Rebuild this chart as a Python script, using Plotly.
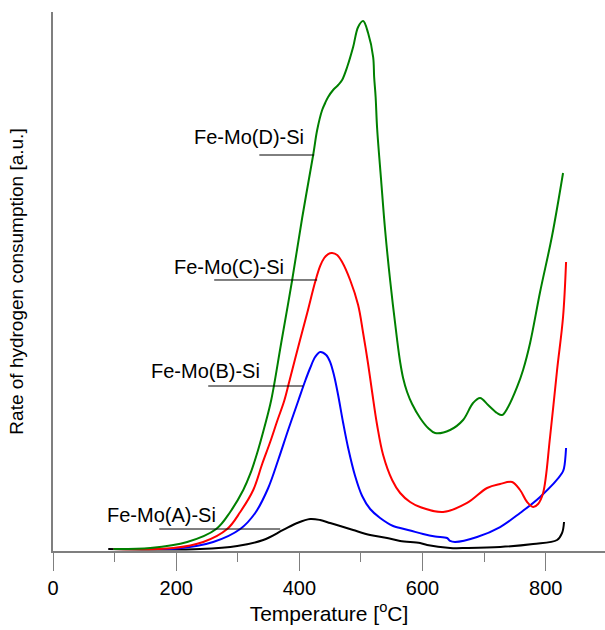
import plotly.graph_objects as go

# H2-TPR profiles of Fe-Mo catalysts on silica (arbitrary intensity units)
temp_a = [89.7, 157.9, 239.0, 299.1, 341.3, 373.7, 396.4, 417.5, 433.8, 450.0, 466.2,
          487.3, 514.9, 542.4, 563.6, 596.0, 607.4, 644.7, 672.3, 725.9, 779.5, 818.4,
          826.5, 829.7]
rate_a = [0.37, 0.28, 0.37, 0.93, 2.04, 3.90, 5.19, 5.94, 5.75, 5.19, 4.64,
          3.90, 2.97, 2.41, 1.86, 1.48, 1.11, 0.56, 0.56, 0.74, 1.30, 2.04,
          3.34, 5.38]

temp_b = [97.9, 157.9, 201.7, 260.1, 304.0, 328.3, 349.4, 365.6, 381.8, 398.1, 409.4,
          417.5, 425.6, 433.8, 443.5, 450.0, 456.5, 462.9, 471.1, 479.2, 490.5, 501.9,
          514.9, 531.1, 552.2, 563.6, 579.8, 600.9, 620.4, 639.8, 644.7, 652.8, 688.5,
          725.9, 758.3, 790.8, 826.5, 829.7, 833.0]
rate_b = [0.37, 0.37, 0.46, 1.67, 4.08, 7.05, 11.69, 16.88, 22.45, 27.83, 31.54,
          33.95, 35.99, 36.92, 36.36, 35.06, 32.47, 28.94, 23.75, 19.11, 13.91, 10.20,
          7.79, 6.12, 4.64, 4.27, 3.80, 3.15, 2.69, 2.41, 1.86, 1.67, 2.60,
          4.45, 7.05, 10.02, 14.47, 15.40, 19.11]

temp_c = [97.9, 195.2, 243.9, 282.8, 304.0, 325.1, 339.6, 352.6, 364.0, 375.3, 383.4,
          398.1, 412.7, 425.6, 433.8, 440.3, 446.7, 453.2, 461.3, 469.4, 482.4, 495.4,
          503.5, 511.6, 518.1, 526.2, 536.0, 550.6, 563.6, 579.8, 596.0, 633.4, 672.3,
          704.8, 725.9, 745.4, 758.3, 769.7, 779.5, 787.5, 795.7, 807.0, 818.4, 828.1,
          833.0]
rate_c = [0.37, 0.56, 1.67, 4.08, 7.24, 11.32, 16.14, 20.22, 24.12, 27.83, 31.35,
          37.85, 44.16, 49.91, 52.88, 54.36, 55.10, 55.29, 54.92, 53.62, 50.28, 45.64,
          40.45, 34.69, 29.50, 23.38, 17.81, 13.17, 10.76, 9.09, 8.16, 7.24, 8.91,
          11.69, 12.43, 12.80, 11.32, 9.09, 8.16, 8.72, 10.76, 21.15, 33.58, 43.41,
          53.62]

temp_d = [97.9, 157.9, 217.9, 265.0, 287.7, 308.9, 320.2, 331.5, 342.9, 354.3, 370.5,
          388.3, 404.5, 422.4, 428.9, 437.0, 441.9, 446.7, 454.8, 463.0, 469.4, 477.6,
          487.3, 495.4, 503.5, 511.6, 519.8, 521.4, 523.8, 526.2, 532.7, 539.2,
          547.3, 558.7, 563.6, 568.4, 574.9, 583.0, 596.0, 609.0, 620.4, 644.7, 665.8,
          682.0, 693.4, 706.4, 721.0, 729.1, 738.9, 753.5, 763.2, 774.6, 790.8, 810.2,
          828.1]
rate_d = [0.37, 0.56, 1.67, 4.08, 7.24, 11.32, 14.29, 18.18, 22.82, 28.01, 38.59,
          50.28, 61.78, 73.47, 78.11, 81.82, 83.12, 84.23, 85.53, 86.46, 87.38, 89.80,
          93.51, 97.22, 98.33, 96.10, 91.65, 87.94, 84.23, 78.48, 68.83, 59.55,
          50.28, 39.15, 35.06, 32.10, 29.50, 27.27, 24.68, 22.82, 21.89, 22.45, 24.30,
          27.46, 28.39, 27.09, 25.60, 25.23, 26.72, 30.43, 33.58, 38.59, 48.05, 58.44,
          70.13]

sample_names = ["Fe-Mo(A)-Si", "Fe-Mo(B)-Si", "Fe-Mo(C)-Si", "Fe-Mo(D)-Si"]
line_colors = ["#000000", "#0000ff", "#ff0000", "#008000"]

# label text centre and leader-line span (temperature start, end, level)
label_x = [175.7, 247.1, 286.4, 318.5]
label_y = [6.7, 33.4, 52.7, 76.8]
leader_x0 = [172.5, 252.0, 261.7, 335.0]
leader_x1 = [368.9, 406.2, 428.9, 424.0]
leader_y = [4.08, 30.61, 50.28, 73.47]

x_ticks = [0, 200, 400, 600, 800]

series = [(temp_a, rate_a), (temp_b, rate_b), (temp_c, rate_c), (temp_d, rate_d)]

fig = go.Figure()
for (tx, ry), name, col in zip(series, sample_names, line_colors):
    fig.add_trace(go.Scatter(
        x=tx, y=ry, mode="lines", name=name,
        line=dict(color=col, width=2, shape="spline", smoothing=1.0),
        showlegend=False,
    ))

font_family = "Liberation Sans, Arial, sans-serif"

for name, lx, ly, x0, x1, yl in zip(sample_names, label_x, label_y,
                                    leader_x0, leader_x1, leader_y):
    fig.add_annotation(x=lx, y=ly, xref="x", yref="y", text=name, showarrow=False,
                       xanchor="center", yanchor="middle",
                       font=dict(family=font_family, size=20, color="#000000"))
    fig.add_shape(type="line", xref="x", yref="y", x0=x0, x1=x1, y0=yl, y1=yl,
                  line=dict(color="#000000", width=1))

fig.update_layout(
    width=605, height=630,
    margin=dict(l=53, r=0, t=12, b=79),
    paper_bgcolor="white", plot_bgcolor="white",
    font=dict(family=font_family, color="#000000"),
    xaxis=dict(
        range=[0, 896.2], tickvals=x_ticks, ticktext=[str(v) for v in x_ticks],
        ticks="outside", ticklen=18, tickwidth=1, tickcolor="#7f7f7f",
        showline=True, linecolor="#7f7f7f", linewidth=2,
        showgrid=False, zeroline=False,
        tickfont=dict(size=20),
        minor=dict(dtick=100, tick0=0, ticks="outside", ticklen=9,
                   tickcolor="#7f7f7f", tickwidth=1, showgrid=False),
        title=dict(text="Temperature [<sup>o</sup>C]", font=dict(size=21), standoff=8),
    ),
    yaxis=dict(
        range=[0, 100], showticklabels=False, ticks="",
        showline=True, linecolor="#7f7f7f", linewidth=2,
        showgrid=False, zeroline=False,
        title=dict(text="Rate of hydrogen consumption [a.u.]", font=dict(size=19),
                   standoff=22),
    ),
)

fig.write_html("out.html")
